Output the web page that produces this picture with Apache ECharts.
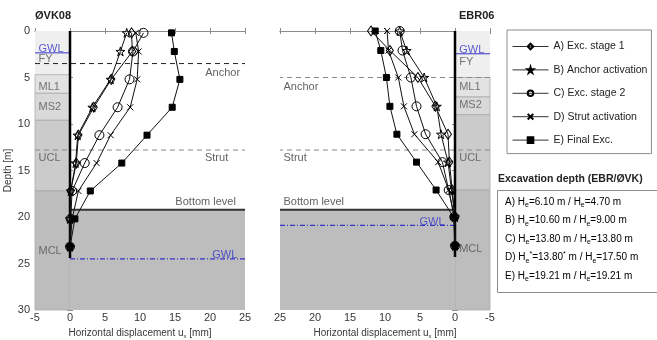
<!DOCTYPE html>
<html>
<head>
<meta charset="utf-8">
<script src="https://cdn.jsdelivr.net/npm/echarts@6/dist/echarts.min.js"></script>
<style>
html,body{margin:0;padding:0;background:#fff}
#chart{width:657px;height:340px}
</style>
</head>
<body>
<div id="chart"></div>
<script>
// Inclinometer profiles: depth [m] and horizontal wall displacement [mm]
const stageNames = ['A) Exc. stage 1', 'B) Anchor activation', 'C) Exc. stage 2', 'D) Strut activation', 'E) Final Exc.'];

const depthOVK = [0.2, 2.2, 5.2, 8.2, 11.2, 14.2, 17.2, 20.2, 23.2];
const ovkA = [8.8, 8.9, 5.9, 3.4, 1.2, 0.9, 0.1, 0.0, 0.0];
const ovkB = [8.1, 7.2, 5.8, 3.2, 1.1, 0.8, 0.1, 0.0, 0.0];
const ovkC = [10.5, 9.0, 8.5, 6.8, 4.2, 2.1, 0.3, 0.1, 0.0];
const ovkD = [9.4, 9.8, 9.6, 8.6, 5.8, 3.8, 1.2, 0.3, 0.0];
const ovkE = [14.5, 14.9, 15.7, 14.6, 11.0, 7.4, 2.9, 0.7, 0.0];

const depthEBR = [0.0, 2.1, 5.0, 8.1, 11.1, 14.1, 17.1, 20.0, 23.1];
const ebrA = [12.0, 9.3, 5.3, 2.8, 1.0, 0.8, 0.4, 0.0, 0.0];
const ebrB = [7.9, 6.9, 4.4, 2.6, 2.0, 1.0, 0.5, 0.0, 0.0];
const ebrC = [7.9, 7.5, 6.3, 5.5, 4.2, 1.8, 0.9, 0.1, 0.0];
const ebrD = [9.7, 9.5, 8.1, 7.3, 5.8, 2.4, 0.9, 0.1, 0.0];
const ebrE = [11.4, 10.6, 9.8, 9.3, 8.3, 5.5, 2.7, 0.2, 0.0];

// Soil layers behind the wall: names, top and bottom depth [m]
const layerNames = ['FY', 'ML1', 'MS2', 'UCL', 'MCL'];
const layerTopOVK = [0.0, 4.7, 6.7, 9.6, 17.2];
const layerBotOVK = [4.7, 6.7, 9.6, 17.2, 30.0];
const layerTopEBR = [0.0, 5.0, 7.1, 9.0, 17.1];
const layerBotEBR = [5.0, 7.1, 9.0, 17.1, 30.0];
const layerLabelDepthOVK = [3.05, 6.05, 8.2, 13.6, 23.6];
const layerLabelDepthEBR = [3.35, 6.05, 8.0, 13.6, 23.4];

// Support levels, groundwater, excavation bottom and wall toe [m]
const anchorOVK = 3.5, strutOVK = 12.8, bottomOVK = 19.21, gwlUpOVK = 2.35, gwlLowOVK = 24.5, toeOVK = 24.4;
const anchorEBR = 5.0, strutEBR = 12.8, bottomEBR = 19.21, gwlUpEBR = 2.45, gwlLowEBR = 20.9, toeEBR = 24.3;

// Axis ticks
const xMin = -5, xMax = 25, xStep = 5;
const yMin = 0, yMax = 30, yStep = 5;

// Excavation depths per stage (EBR / ØVK)
const excStages = ['A', 'B', 'C', 'D', 'E'];
const excDepthEBR = ['6.10', '10.60', '13.80', '13.80', '19.21'];
const excDepthOVK = ['4.70', '9.00', '13.80', '17.50', '19.21'];
const excStarred = [false, false, false, true, false];

const FONT = 'Liberation Sans, Arial, Helvetica, sans-serif';
const TXT = '#383838';
const BLUE = '#3434c8';
const layerFill = ['#efefef', '#e3e3e3', '#d9d9d9', '#cbcbcb', '#bdbdbd'];

const markerStyles = [
  {symbol: 'diamond', symbolSize: [7, 10], fill: 'rgba(0,0,0,0)'},
  {symbol: 'path://M50,0L61,35L98,35L68,57L79,91L50,70L21,91L32,57L2,35L39,35Z', symbolSize: 9, fill: 'rgba(0,0,0,0)'},
  {symbol: 'circle', symbolSize: 9, fill: 'rgba(0,0,0,0)'},
  {symbol: 'path://M0,0L10,10M10,0L0,10', symbolSize: 6, fill: 'rgba(0,0,0,0)'},
  {symbol: 'rect', symbolSize: 6, fill: '#000'}
];

function profileSeries(idx, depth, values) {
  return values.map((vals, k) => ({
    name: stageNames[k],
    type: 'line',
    xAxisIndex: idx, yAxisIndex: idx,
    data: vals.map((u, i) => [u, depth[i]]),
    symbol: markerStyles[k].symbol,
    symbolSize: markerStyles[k].symbolSize,
    showAllSymbol: true,
    lineStyle: {color: '#111', width: 1},
    itemStyle: {color: markerStyles[k].fill, borderColor: '#000', borderWidth: 1},
    z: 5 + k,
    animation: false
  }));
}

function refLine(idx, pts, style, z) {
  return {
    type: 'line', xAxisIndex: idx, yAxisIndex: idx,
    data: pts, symbol: 'none', silent: true, animation: false,
    lineStyle: style, z: z || 3, legendHoverLink: false
  };
}

function textSeries(idx, items) {
  return {
    type: 'scatter', xAxisIndex: idx, yAxisIndex: idx, silent: true, animation: false,
    symbolSize: 0, z: 20,
    data: items.map(t => ({
      value: [t.x, t.y],
      label: {
        show: true, formatter: t.text, position: t.pos, distance: 0,
        color: t.color || TXT, fontSize: 11, fontFamily: FONT
      }
    }))
  };
}

function soilSeries(idx, tops, bots, bottom, colX) {
  const areas = tops.map((t, i) => [
    {xAxis: colX[0], yAxis: t, itemStyle: {color: layerFill[i], borderColor: '#a9a9a9', borderWidth: i === 0 ? 0 : 0.8}},
    {xAxis: colX[1], yAxis: bots[i]}
  ]);
  areas.push([
    {xAxis: 0, yAxis: bottom, itemStyle: {color: layerFill[4]}},
    {xAxis: xMax, yAxis: yMax}
  ]);
  return {
    type: 'line', xAxisIndex: idx, yAxisIndex: idx, data: [], silent: true, animation: false, z: 1,
    markArea: {silent: true, data: areas}
  };
}

function plotSeries(idx, depth, values, tops, bots, labelDepths, lv, side) {
  const s = [];
  s.push(soilSeries(idx, tops, bots, lv.bottom, [-5, 0]));
  // anchor and strut levels
  s.push(refLine(idx, [[xMin, lv.anchor], [xMax, lv.anchor]], {color: side === 'L' ? '#222' : '#8a8a8a', width: 1, type: [5, 4]}, 2));
  s.push(refLine(idx, [[xMin, lv.strut], [xMax, lv.strut]], {color: '#8a8a8a', width: 1, type: [5, 4]}, 2));
  // groundwater levels
  s.push(refLine(idx, [[-5, lv.gwlUp], [0, lv.gwlUp]], {color: BLUE, width: 1}, 2));
  s.push(refLine(idx, [[0, lv.gwlLow], [xMax, lv.gwlLow]], {color: BLUE, width: 1.2, type: [5, 2, 1, 2]}, 2));
  // excavation bottom and wall
  s.push(refLine(idx, [[0, lv.bottom], [xMax, lv.bottom]], {color: '#333', width: 2}, 3));
  s.push(refLine(idx, [[0, 0], [0, lv.toe]], {color: '#000', width: 2.5}, 4));
  s.push(...profileSeries(idx, depth, values));

  const labels = [];
  const lx = side === 'L' ? -4.5 : -0.6;
  layerNames.forEach((n, i) => labels.push({text: n, x: lx, y: labelDepths[i], pos: 'right', color: '#555'}));
  labels.push({text: 'GWL', x: lx, y: lv.gwlUp - 0.45, pos: 'right', color: BLUE});
  if (side === 'L') {
    labels.push({text: 'Anchor', x: 24.3, y: lv.anchor + 1.0, pos: 'left'});
    labels.push({text: 'Strut', x: 22.6, y: lv.strut + 0.8, pos: 'left'});
    labels.push({text: 'Bottom level', x: 23.7, y: lv.bottom - 0.8, pos: 'left'});
    labels.push({text: 'GWL', x: 23.9, y: lv.gwlLow - 0.45, pos: 'left', color: BLUE});
  } else {
    labels.push({text: 'Anchor', x: 24.5, y: lv.anchor + 1.0, pos: 'right'});
    labels.push({text: 'Strut', x: 24.5, y: lv.strut + 0.8, pos: 'right'});
    labels.push({text: 'Bottom level', x: 24.5, y: lv.bottom - 0.8, pos: 'right'});
    labels.push({text: 'GWL', x: 1.5, y: lv.gwlLow - 0.4, pos: 'left', color: BLUE});
  }
  s.push(textSeries(idx, labels));
  return s;
}

const lvOVK = {anchor: anchorOVK, strut: strutOVK, bottom: bottomOVK, gwlUp: gwlUpOVK, gwlLow: gwlLowOVK, toe: toeOVK};
const lvEBR = {anchor: anchorEBR, strut: strutEBR, bottom: bottomEBR, gwlUp: gwlUpEBR, gwlLow: gwlLowEBR, toe: toeEBR};

const axisLineStyle = {show: true, lineStyle: {color: '#8c8c8c', width: 1}};
const tickIn = {show: true, inside: true, length: 3, lineStyle: {color: '#8c8c8c'}};
const nameRich = {
  n: {fontSize: 10, fontFamily: FONT, color: TXT},
  s: {fontSize: 6, fontFamily: FONT, color: TXT, padding: [6, 0, 0, 0]}
};

function xAx(grid, inverse, bottom) {
  return {
    type: 'value', gridIndex: grid, min: xMin, max: xMax, interval: xStep, inverse: inverse,
    position: bottom ? 'bottom' : 'top',
    axisLine: axisLineStyle, axisTick: tickIn, splitLine: {show: false},
    axisLabel: {show: bottom, color: TXT, fontSize: 11, fontFamily: FONT, margin: 2},
    name: bottom ? '{n|Horizontal displacement u}{s|x}{n| [mm]}' : '',
    nameLocation: 'middle', nameGap: 17,
    nameTextStyle: {rich: nameRich}
  };
}
function yAx(grid, left, labels) {
  return {
    type: 'value', gridIndex: grid, min: yMin, max: yMax, interval: yStep, inverse: true,
    position: left ? 'left' : 'right',
    axisLine: axisLineStyle, axisTick: tickIn, splitLine: {show: false},
    axisLabel: {show: labels, color: TXT, fontSize: 11, fontFamily: FONT, margin: 5},
    name: labels ? 'Depth [m]' : '', nameLocation: 'middle', nameGap: 22,
    nameTextStyle: {color: TXT, fontSize: 10, fontFamily: FONT}
  };
}

// Excavation depth table
const tableRich = {
  n: {fontSize: 10, fontFamily: FONT, color: '#333'},
  s: {fontSize: 7, fontFamily: FONT, color: '#333', padding: [7, 0, 0, 0]},
  p: {fontSize: 7, fontFamily: FONT, color: '#333', padding: [0, 0, 6, 0]}
};
const tableLines = excStages.map((st, i) => {
  const star = excStarred[i] ? '{p|*}' : '';
  return '{n|' + st + ') H}{s|e}' + star + '{n|=' + excDepthEBR[i] + '}' + star + '{n| m / H}{s|e}{n|=' + excDepthOVK[i] + ' m}';
});

const graphics = [
  {type: 'text', left: 35, top: 10, style: {text: 'ØVK08', font: 'bold 11px ' + FONT, fill: '#222'}},
  {type: 'text', left: 459, top: 10, style: {text: 'EBR06', font: 'bold 11px ' + FONT, fill: '#222'}},
  {type: 'text', left: 498, top: 174, style: {text: 'Excavation depth (EBR/ØVK)', font: 'bold 10.5px ' + FONT, fill: '#222'}},
  {type: 'rect', shape: {x: 497.5, y: 190.5, width: 170, height: 102}, style: {fill: '#fff', stroke: '#8c8c8c', lineWidth: 1}}
];
tableLines.forEach((t, i) => {
  graphics.push({type: 'text', x: 505, y: 195 + i * 18.5, style: {text: t, rich: tableRich}});
});

const option = {
  animation: false,
  backgroundColor: '#fff',
  textStyle: {fontFamily: FONT},
  grid: [
    {left: 35, top: 31, width: 210, height: 279, outerBoundsMode: 'none', containLabel: false},
    {left: 280, top: 31, width: 210, height: 279, outerBoundsMode: 'none', containLabel: false}
  ],
  xAxis: [xAx(0, false, true), xAx(1, true, true), xAx(0, false, false), xAx(1, true, false)],
  yAxis: [yAx(0, true, true), yAx(1, true, false), yAx(0, false, false), yAx(1, false, false)],
  legend: {
    data: stageNames, orient: 'vertical', left: 507, top: 30,
    itemWidth: 36, itemHeight: 7, itemGap: 12.4, padding: [11, 4, 8, 5],
    lineStyle: {width: 1, color: '#333'},
    borderColor: '#8c8c8c', borderWidth: 1, backgroundColor: '#fff',
    textStyle: {fontSize: 10.5, color: '#222', fontFamily: FONT},
    selectedMode: false
  },
  graphic: graphics,
  series: [
    ...plotSeries(0, depthOVK, [ovkA, ovkB, ovkC, ovkD, ovkE], layerTopOVK, layerBotOVK, layerLabelDepthOVK, lvOVK, 'L'),
    ...plotSeries(1, depthEBR, [ebrA, ebrB, ebrC, ebrD, ebrE], layerTopEBR, layerBotEBR, layerLabelDepthEBR, lvEBR, 'R')
  ]
};

const chart = echarts.init(document.getElementById('chart'), null, {renderer: 'canvas'});
chart.setOption(option);
</script>
</body>
</html>
